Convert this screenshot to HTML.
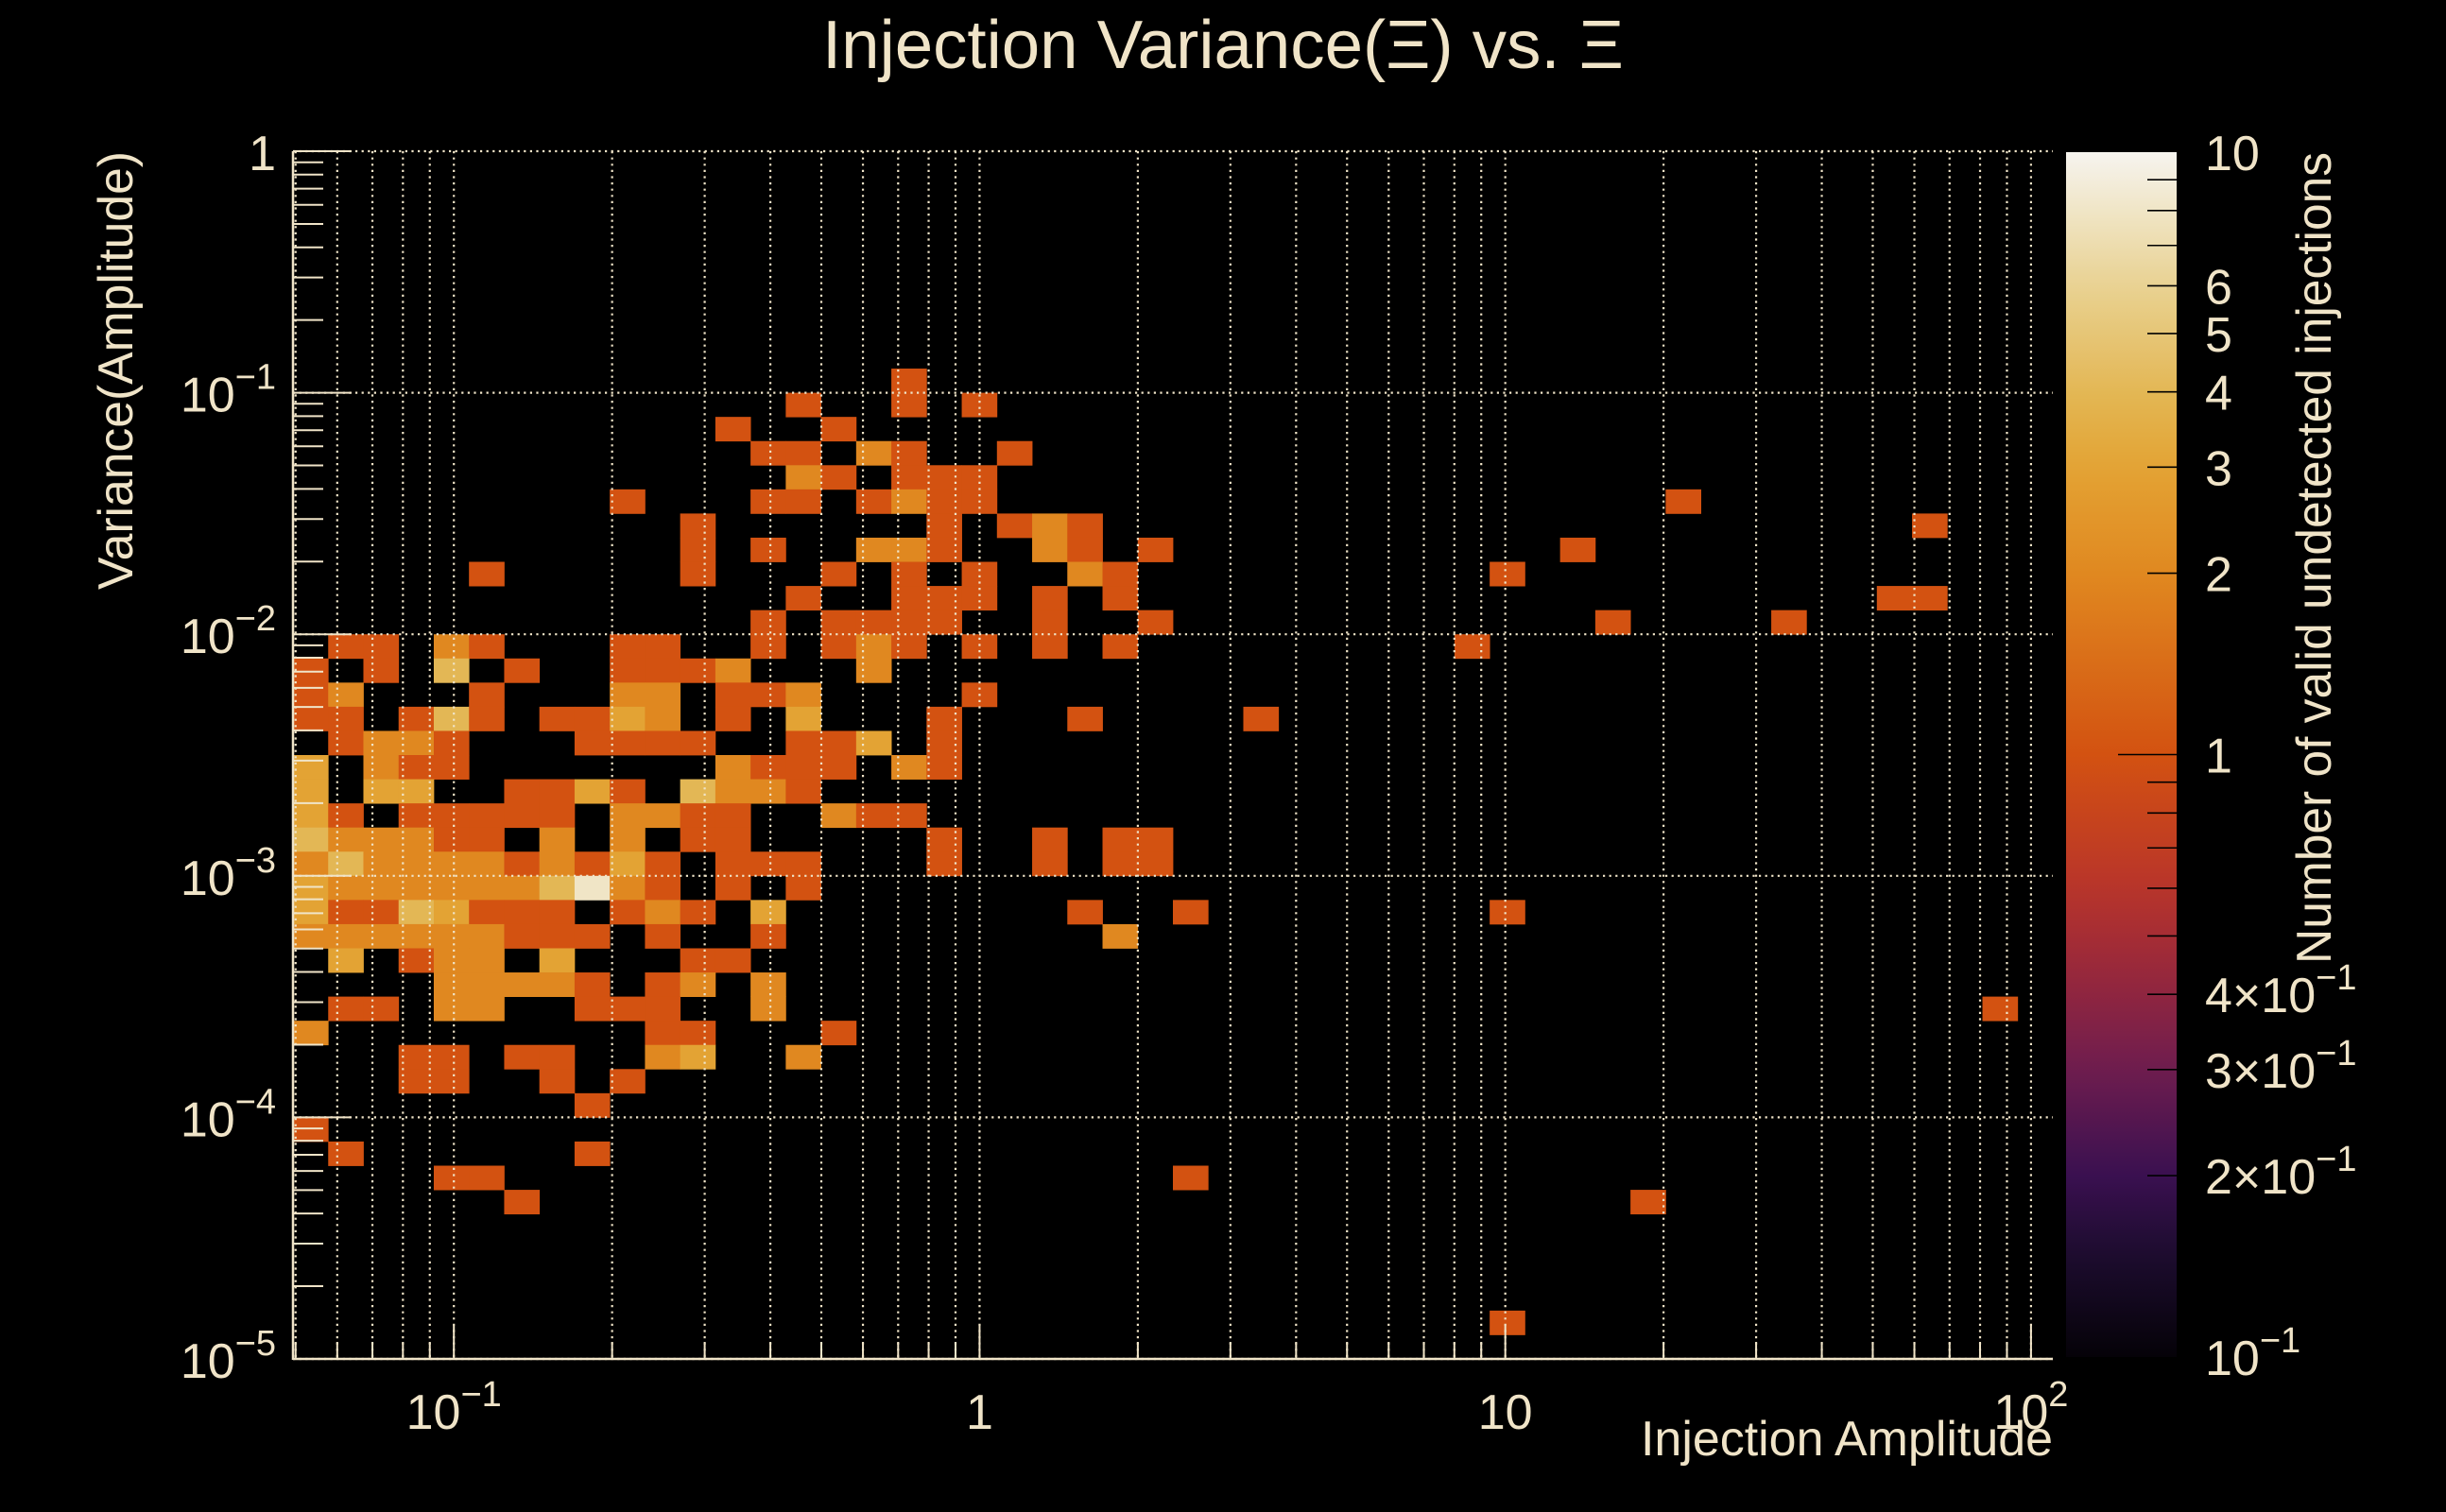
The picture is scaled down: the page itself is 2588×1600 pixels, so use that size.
<!DOCTYPE html>
<html>
<head>
<meta charset="utf-8">
<style>
  html,body{margin:0;padding:0;background:#000;}
  svg{display:block;}
  text{font-family:"Liberation Sans",sans-serif;fill:#f0e4c8;}
</style>
</head>
<body>
<svg id="chart" width="2588" height="1600" viewBox="0 0 2588 1600" xmlns="http://www.w3.org/2000/svg">
  <rect x="0" y="0" width="2588" height="1600" fill="#000"/>
  <text x="1294" y="72" font-size="72" text-anchor="middle" textLength="848" lengthAdjust="spacingAndGlyphs">Injection Variance(Ξ) vs. Ξ</text>
  <g id="cells"></g>
  <g id="grid"></g>
  <g id="axes"></g>
  <g id="colorbar"></g>
  <text x="2172" y="1540" font-size="52" text-anchor="end" textLength="436" lengthAdjust="spacingAndGlyphs">Injection Amplitude</text>
  <text transform="translate(140,160) rotate(-90)" x="0" y="0" font-size="52" text-anchor="end" textLength="464" lengthAdjust="spacingAndGlyphs">Variance(Amplitude)</text>
  <text transform="translate(2466,161) rotate(-90)" x="0" y="0" font-size="52" text-anchor="end" textLength="859" lengthAdjust="spacingAndGlyphs">Number of valid undetected injections</text>
</svg>
<script>
// ---- data (bin indices: ix from left, iy from bottom, 50x50 log bins) ----
const nBinsX = 50;
const nBinsY = 50;
const xLogRange = [-1.306, 2.0415];
const yLogRange = [-5, 0];
const zRange = [0.1, 10];
const cellX = [
  17,
  14,17,19,
  12,15,
  13,14,16,17,20,
  14,15,17,18,19,
  9,13,14,16,17,18,19,39,
  11,18,20,21,22,46,
  11,13,16,17,18,21,22,24,36,
  5,11,15,17,19,22,23,34,
  14,17,18,19,21,23,45,46,
  13,15,16,17,18,21,24,37,42,
  1,2,4,5,9,10,13,15,16,17,19,21,23,33,
  0,2,4,6,9,10,11,12,16,
  0,1,5,9,10,12,13,14,19,
  0,1,3,4,5,7,8,9,10,12,14,18,22,27,
  1,2,3,4,8,9,10,11,14,15,16,18,
  0,2,3,4,12,13,14,15,17,18,
  0,2,3,6,7,8,9,11,12,13,14,
  0,1,3,4,5,6,7,9,10,11,12,15,16,17,
  0,1,2,3,4,5,7,9,11,12,18,21,23,24,
  0,1,2,3,4,5,6,7,8,9,10,12,13,14,18,21,23,24,
  0,1,2,3,4,5,6,7,8,9,10,12,14,
  0,1,2,3,4,5,6,7,9,10,11,13,22,25,34,
  0,1,2,3,4,5,6,7,8,10,13,23,
  1,3,4,5,7,11,12,
  4,5,6,7,8,10,11,13,
  1,2,4,5,8,9,10,13,48,
  0,10,11,15,
  3,4,6,7,10,11,14,
  3,4,7,9,
  8,
  0,
  1,8,
  4,5,25,
  6,38,
  34];
const cellY = [
  40,
  39,39,39,
  38,38,
  37,37,37,37,37,
  36,36,36,36,36,
  35,35,35,35,35,35,35,35,
  34,34,34,34,34,34,
  33,33,33,33,33,33,33,33,33,
  32,32,32,32,32,32,32,32,
  31,31,31,31,31,31,31,31,
  30,30,30,30,30,30,30,30,30,
  29,29,29,29,29,29,29,29,29,29,29,29,29,29,
  28,28,28,28,28,28,28,28,28,
  27,27,27,27,27,27,27,27,27,
  26,26,26,26,26,26,26,26,26,26,26,26,26,26,
  25,25,25,25,25,25,25,25,25,25,25,25,
  24,24,24,24,24,24,24,24,24,24,
  23,23,23,23,23,23,23,23,23,23,23,
  22,22,22,22,22,22,22,22,22,22,22,22,22,22,
  21,21,21,21,21,21,21,21,21,21,21,21,21,21,
  20,20,20,20,20,20,20,20,20,20,20,20,20,20,20,20,20,20,
  19,19,19,19,19,19,19,19,19,19,19,19,19,
  18,18,18,18,18,18,18,18,18,18,18,18,18,18,18,
  17,17,17,17,17,17,17,17,17,17,17,17,
  16,16,16,16,16,16,16,
  15,15,15,15,15,15,15,15,
  14,14,14,14,14,14,14,14,14,
  13,13,13,13,
  12,12,12,12,12,12,12,
  11,11,11,11,
  10,
  9,
  8,8,
  7,7,7,
  6,6,
  1];
const cellN = [
  1,
  1,1,1,
  1,1,
  1,1,2,1,1,
  2,1,1,1,1,
  1,1,1,1,2,1,1,1,
  1,1,1,2,1,1,
  1,1,2,2,1,2,1,1,1,
  1,1,1,1,1,2,1,1,
  1,1,1,1,1,1,1,1,
  1,1,1,1,1,1,1,1,1,
  1,1,2,1,1,1,1,1,2,1,1,1,1,1,
  1,1,4,1,1,1,1,2,2,
  1,2,1,2,2,1,1,2,1,
  1,1,1,4,1,1,1,3,2,1,3,1,1,1,
  1,2,2,1,1,1,1,1,1,1,3,1,
  3,2,1,1,2,1,1,1,2,1,
  3,3,3,1,1,3,1,4,2,2,1,
  3,1,1,1,1,1,1,2,2,1,1,2,1,1,
  4,2,2,2,1,1,2,2,1,1,1,1,1,1,
  2,4,2,2,2,2,1,2,1,3,1,1,1,1,1,1,1,1,
  3,2,2,2,2,2,2,4,8,2,1,1,1,
  3,1,1,4,3,1,1,1,1,2,1,3,1,1,1,
  2,2,2,2,2,2,1,1,1,1,1,2,
  3,1,2,2,3,1,1,
  2,2,2,2,1,1,2,2,
  1,1,2,2,1,1,1,2,1,
  2,1,1,1,
  1,1,1,1,2,3,2,
  1,1,1,1,
  1,
  1,
  1,1,
  1,1,1,
  1,1,
  1];
const yTickExp = [0,-1,-2,-3,-4,-5];
const xTickLabels = [[-1,"10","−1"],[0,"1",""],[1,"10",""],[2,"10","2"]];
const zTicks = [10,6,5,4,3,2,1,0.4,0.3,0.2,0.1];
const zTickLabels = ["10","6","5","4","3","2","1","4×10","3×10","2×10","10"];
const zTickSup = ["","","","","","","","−1","−1","−1","−1"];
// colormap stops (value, color)
const cmapVals = [0.1,0.15,0.2,0.3,0.4,0.6,1,2,3,4,6,10];
const cmapCols = ["#050208","#1e0c30","#3a1050","#6e1d4f","#8f2540","#b8342a","#d35211","#e08820","#e3a334","#e3b755","#e9d292","#f6f4ef"];

// ---- geometry ----
const PX0=310, PX1=2172, PY0=160, PY1=1438;
const CBX0=2186, CBX1=2303, CBY0=161, CBY1=1436;
const NS="http://www.w3.org/2000/svg";
function xPix(lg){return PX0+(lg-xLogRange[0])/(xLogRange[1]-xLogRange[0])*(PX1-PX0);}
function yPix(lg){return PY1-(lg-yLogRange[0])/(yLogRange[1]-yLogRange[0])*(PY1-PY0);}
function binX(i){return xPix(xLogRange[0]+i*(xLogRange[1]-xLogRange[0])/nBinsX);}
function binY(j){return yPix(yLogRange[0]+j*(yLogRange[1]-yLogRange[0])/nBinsY);}
function zPix(v){const t=(Math.log10(v)-Math.log10(zRange[0]))/(Math.log10(zRange[1])-Math.log10(zRange[0]));return CBY1-t*(CBY1-CBY0);}
function hex2rgb(h){return [parseInt(h.substr(1,2),16),parseInt(h.substr(3,2),16),parseInt(h.substr(5,2),16)];}
function cmap(v){
  const l=Math.log10(v);
  for(let k=0;k<cmapVals.length-1;k++){
    const a=Math.log10(cmapVals[k]), b=Math.log10(cmapVals[k+1]);
    if(l<=b||k===cmapVals.length-2){
      let t=Math.max(0,Math.min(1,(l-a)/(b-a)));
      const c0=hex2rgb(cmapCols[k]), c1=hex2rgb(cmapCols[k+1]);
      return "rgb("+c0.map((c,i)=>Math.round(c+(c1[i]-c)*t)).join(",")+")";
    }
  }
}
function mk(tag,attrs,parent){const e=document.createElementNS(NS,tag);for(const k in attrs)e.setAttribute(k,attrs[k]);parent.appendChild(e);return e;}

// ---- cells ----
const gC=document.getElementById("cells");
for(let i=0;i<cellX.length;i++){
  const x0=binX(cellX[i]), x1=binX(cellX[i]+1), y0=binY(cellY[i]+1), y1=binY(cellY[i]);
  const r=mk("rect",{x:x0.toFixed(2),y:y0.toFixed(2),width:(x1-x0+0.4).toFixed(2),height:(y1-y0+0.4).toFixed(2),fill:cmap(cellN[i])},gC);
  
  
}

// ---- grid ----
const gG=document.getElementById("grid");
const gridStyle={stroke:"#f0e4c8","stroke-width":2.2,"stroke-dasharray":"2.2 4.4",fill:"none"};
for(let d=-2;d<=2;d++){for(let m=1;m<=9;m++){
  const lg=d+Math.log10(m);
  if(lg<xLogRange[0]||lg>xLogRange[1])continue;
  const x=xPix(lg);
  const l=mk("line",Object.assign({x1:x,x2:x,y1:PY0,y2:PY1},gridStyle),gG);
  
  
}}
for(const e of yTickExp){
  const y=yPix(e);
  const l=mk("line",Object.assign({x1:PX0,x2:PX1,y1:y,y2:y},gridStyle),gG);
  
  
}

// ---- axes ----
const gA=document.getElementById("axes");
const axCol="#f0e4c8";
let ln=mk("line",{x1:PX0,x2:PX0,y1:PY0,y2:PY1+1,stroke:axCol,"stroke-width":2.5},gA);


ln=mk("line",{x1:PX0,x2:PX1,y1:PY1,y2:PY1,stroke:axCol,"stroke-width":2.5},gA);


for(let d=-5;d<=0;d++){for(let m=1;m<=9;m++){
  const lg=d+Math.log10(m);
  if(lg>0)continue;
  const y=yPix(lg);
  const len=(m===1)?62:32;
  const t=mk("line",{x1:PX0,x2:PX0+len,y1:y,y2:y,stroke:axCol,"stroke-width":2},gA);
  
  
}}
for(let d=-2;d<=2;d++){for(let m=1;m<=9;m++){
  const lg=d+Math.log10(m);
  if(lg<xLogRange[0]||lg>xLogRange[1])continue;
  const x=xPix(lg);
  const len=(m===1)?35:18;
  const t=mk("line",{x1:x,x2:x,y1:PY1,y2:PY1-len,stroke:axCol,"stroke-width":2},gA);
  
  
}}
for(const e of yTickExp){
  const y=yPix(e);
  const t=mk("text",{x:292,y:y+20,"font-size":52,"text-anchor":"end"},gA);
  
  
  if(e===0){t.textContent="1";}
  else{
    const a=document.createElementNS(NS,"tspan");a.textContent="10";t.appendChild(a);
    const b=document.createElementNS(NS,"tspan");b.setAttribute("dy","-24");b.setAttribute("font-size","38");b.textContent="−"+(-e);t.appendChild(b);
  }
}
for(const [lg,base,sup] of xTickLabels){
  const x=xPix(lg);
  const t=mk("text",{x:x,y:1512,"font-size":52,"text-anchor":"middle"},gA);
  
  
  const a=document.createElementNS(NS,"tspan");a.textContent=base;t.appendChild(a);
  if(sup){const b=document.createElementNS(NS,"tspan");b.setAttribute("dy","-24");b.setAttribute("font-size","38");b.textContent=sup;t.appendChild(b);}
}

// ---- colorbar ----
const gB=document.getElementById("colorbar");
const defs=mk("defs",{},gB);
const grad=mk("linearGradient",{id:"cbgrad",x1:0,y1:1,x2:0,y2:0},defs);
for(let k=0;k<=40;k++){
  const v=Math.pow(10,-1+2*k/40);
  mk("stop",{offset:(k/40).toFixed(3),"stop-color":cmap(v)},grad);
}
const cb=mk("rect",{x:CBX0,y:CBY0,width:CBX1-CBX0,height:CBY1-CBY0,fill:"url(#cbgrad)"},gB);


for(let d=-1;d<=1;d++){for(let m=1;m<=9;m++){
  const v=m*Math.pow(10,d);
  if(v<=zRange[0]||v>=zRange[1])continue;
  const y=zPix(v);
  const len=(m===1)?62:31;
  const t=mk("line",{x1:CBX1-len,x2:CBX1,y1:y,y2:y,stroke:"#000","stroke-width":1.6},gB);
  
  
}}
for(let i=0;i<zTicks.length;i++){
  const y=zPix(zTicks[i]);
  const t=mk("text",{x:2333,y:y+19,"font-size":52},gB);
  
  
  const a=document.createElementNS(NS,"tspan");a.textContent=zTickLabels[i];t.appendChild(a);
  if(zTickSup[i]){const b=document.createElementNS(NS,"tspan");b.setAttribute("dy","-24");b.setAttribute("font-size","38");b.textContent=zTickSup[i];t.appendChild(b);}
}
</script>
</body>
</html>
